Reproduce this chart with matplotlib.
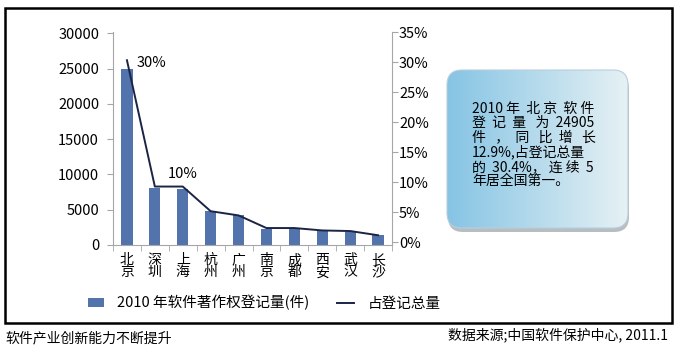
import numpy as np
import matplotlib
matplotlib.use('Agg')
import matplotlib.pyplot as plt
from matplotlib.patches import FancyBboxPatch, Rectangle

plt.rcParams['font.family'] = ['Noto Sans CJK SC', 'DejaVu Sans']

# 数据
cities = ['北京', '深圳', '上海', '杭州', '广州', '南京', '成都', '西安', '武汉', '长沙']
counts = [24905, 8100, 7950, 4750, 4200, 2300, 2300, 2000, 1900, 1350]
shares = [30.3, 9.3, 9.3, 5.2, 4.5, 2.4, 2.4, 2.0, 1.9, 1.2]
left_ticks = [0, 5000, 10000, 15000, 20000, 25000, 30000]
right_ticks = [0, 5, 10, 15, 20, 25, 30, 35]
bar_label = '2010 年软件著作权登记量(件)'
line_label = '占登记总量'
note_lines = [
    ['2010', '年', '北', '京', '软', '件'],
    ['登', '记', '量', '为', '24905'],
    ['件', '，', '同', '比', '增', '长'],
    ['12.9%,占登记总量'],
    ['的', '30.4%，', '连', '续', '5'],
    ['年居全国第一。'],
]
footer_left = '软件产业创新能力不断提升'
footer_right = '数据来源;中国软件保护中心, 2011.1'

W, H = 680, 352
fig = plt.figure(figsize=(W / 100, H / 100), dpi=100)
gray = '#a6a6a6'
bar_color = '#5373ad'
line_color = '#1b2444'

# 主图
ax = fig.add_axes([113 / W, 1 - 245 / H, 279 / W, 213 / H])
x = np.arange(len(cities))
bars = ax.bar(x, counts, width=0.4, color=bar_color, zorder=2)
ax.set_xlim(-0.5, len(cities) - 0.5)
ax.set_ylim(0, 30200)
ax.set_yticks(left_ticks)
ax.set_yticklabels([str(v) for v in left_ticks], fontsize=10.5)
ax.set_xticks(x)
ax.set_xticklabels(['\n'.join(c) for c in cities], fontsize=10, linespacing=0.82)
ax.set_xticks(np.arange(-0.5, len(cities), 1), minor=True)
ax.tick_params(axis='x', which='major', length=0, pad=6)
ax.tick_params(axis='x', which='minor', length=4, color=gray)
ax.tick_params(axis='y', length=4, color=gray, pad=6)
for s in ['top', 'right']:
    ax.spines[s].set_visible(False)
for s in ['left', 'bottom']:
    ax.spines[s].set_color(gray)

ax2 = ax.twinx()
line, = ax2.plot(x, shares, color=line_color, lw=1.4, zorder=3)
ax2.set_ylim(-0.42, 35)
ax2.set_yticks(right_ticks)
ax2.set_yticklabels([f'{v}%' for v in right_ticks], fontsize=10.5)
ax2.tick_params(axis='y', length=4, color=gray, pad=1)
for s in ['top', 'left', 'bottom']:
    ax2.spines[s].set_visible(False)
ax2.spines['right'].set_color(gray)

ax2.annotate('30%', xy=(0, shares[0]), xytext=(7, -2), textcoords='offset points',
             fontsize=10.5, ha='left', va='center')
ax2.annotate('10%', xy=(2, shares[2]), xytext=(0, 9), textcoords='offset points',
             fontsize=10.5, ha='center', va='center')

fig.legend([bars, line], [bar_label, line_label], loc='center', ncol=2,
           bbox_to_anchor=(264 / W, 1 - 303 / H), frameon=False, fontsize=10.5,
           handlelength=1.15, handleheight=0.55, handletextpad=0.9, columnspacing=1.9)

# 覆盖层：外框、说明框、脚注
ov = fig.add_axes([0, 0, 1, 1], zorder=5)
ov.set_xlim(0, W)
ov.set_ylim(H, 0)
ov.axis('off')
ov.patch.set_visible(False)

ov.add_patch(Rectangle((5, 8), 667, 315, fill=False, ec='black', lw=1.8))

bx, by, bw, bh = 447, 70, 181, 158
shadow = FancyBboxPatch((bx + 1, by + 4), bw, bh, boxstyle='round,pad=0,rounding_size=15',
                        fc='#7d8a90', ec='none', alpha=0.55)
ov.add_patch(shadow)
box = FancyBboxPatch((bx, by), bw, bh, boxstyle='round,pad=0,rounding_size=15',
                     fc='none', ec='#b8cfdc', lw=0.8)
ov.add_patch(box)
grad = np.linspace(0, 1, 256)[None, :]
cmap = matplotlib.colors.LinearSegmentedColormap.from_list('g', ['#86c4e4', '#e6f1f4'])
img = ov.imshow(grad, extent=[bx, bx + bw, by + bh, by], cmap=cmap, aspect='auto', zorder=1)
img.set_clip_path(box)
box.set_zorder(2)

# 两端对齐：用空格填充每行
renderer = fig.canvas.get_renderer()
note_fs = 10
line_w = 123


def text_width(s):
    t = ov.text(0, 0, s, fontsize=note_fs)
    w = t.get_window_extent(renderer=renderer).width
    t.remove()
    return w


space_w = (text_width('a' + ' ' * 20 + 'a') - text_width('aa')) / 20
rows = []
for i, tokens in enumerate(note_lines):
    if len(tokens) == 1 or i == len(note_lines) - 1:
        rows.append(''.join(tokens))
        continue
    free = line_w - sum(text_width(t) for t in tokens)
    n_gaps = len(tokens) - 1
    total_sp = max(n_gaps, int(round(free / space_w)))
    row = tokens[0]
    used = 0
    for k, tok in enumerate(tokens[1:], start=1):
        n = int(round(total_sp * k / n_gaps)) - used
        used += n
        row += ' ' * n + tok
    rows.append(row)

ov.text(472, 102, '\n'.join(rows), fontsize=note_fs, ha='left', va='top',
        linespacing=1.03, zorder=3)

ov.text(5, 338, footer_left, fontsize=10, ha='left', va='center')
ov.text(668, 335, footer_right, fontsize=10, ha='right', va='center')

fig.savefig('out.png', dpi=100)
